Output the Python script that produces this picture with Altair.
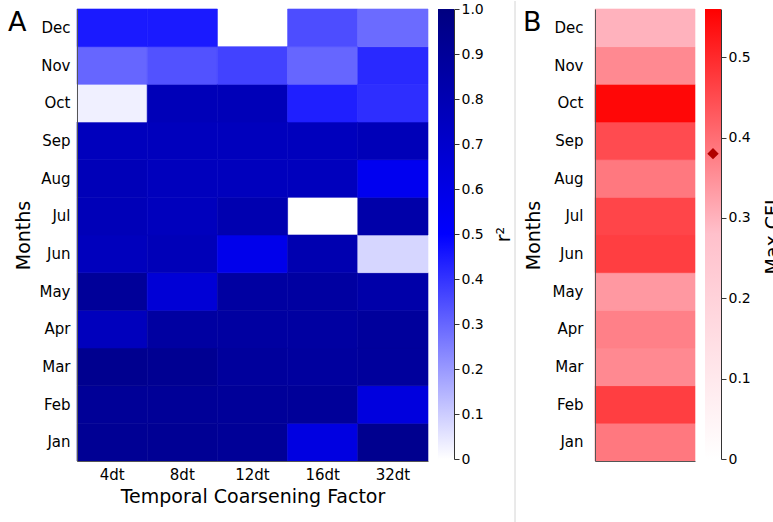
import altair as alt
import pandas as pd

# ---------------- data ----------------
months = ["Jan", "Feb", "Mar", "Apr", "May", "Jun", "Jul", "Aug", "Sep", "Oct", "Nov", "Dec"]
factors = ["4dt", "8dt", "12dt", "16dt", "32dt"]

# r^2 per coarsening factor, Jan..Dec (None = missing cell)
r2_4dt = [0.92, 0.91, 0.94, 0.76, 0.90, 0.76, 0.78, 0.78, 0.76, 0.03, 0.30, 0.45]
r2_8dt = [0.92, 0.91, 0.93, 0.87, 0.66, 0.78, 0.76, 0.76, 0.76, 0.78, 0.34, 0.45]
r2_12dt = [0.91, 0.90, 0.89, 0.87, 0.87, 0.58, 0.81, 0.76, 0.76, 0.78, 0.37, None]
r2_16dt = [0.62, 0.90, 0.88, 0.87, 0.87, 0.81, None, 0.76, 0.76, 0.44, 0.30, 0.35]
r2_32dt = [0.94, 0.63, 0.89, 0.89, 0.84, 0.08, 0.84, 0.56, 0.78, 0.41, 0.42, 0.29]

# max CFL per month, Jan..Dec
max_cfl = [0.385, 0.47, 0.36, 0.373, 0.338, 0.47, 0.46, 0.385, 0.45, 0.55, 0.36, 0.30]
cfl_marker = [0.38]

panel_labels = ["A", "B"]

r2_ticks = [0, 0.1, 0.2, 0.3, 0.4, 0.5, 0.6, 0.7, 0.8, 0.9, 1.0]
cfl_ticks = [0, 0.1, 0.2, 0.3, 0.4, 0.5]

r2_domain = [0, 0.5, 1.0]
r2_colors = ["#ffffff", "#0000ff", "#000080"]
cfl_domain = [0, 0.28, 0.56]
cfl_colors = ["#ffffff", "#ffc0cb", "#ff0000"]

# ---------------- tables ----------------
cols = {"4dt": r2_4dt, "8dt": r2_8dt, "12dt": r2_12dt, "16dt": r2_16dt, "32dt": r2_32dt}
rows = []
for f in factors:
    for m, v in zip(months, cols[f]):
        if v is not None:
            rows.append({"factor": f, "month": m, "r2": v})
df_a = pd.DataFrame(rows)
df_b = pd.DataFrame({"month": months, "cfl": max_cfl, "c": ["all"] * 12})

FONT = "DejaVu Sans"
label_expr = "datum.value == 0 ? '0' : format(datum.value, '.1f')"


def gradient(domain, colors):
    lo, hi = domain[0], domain[-1]
    return {
        "gradient": "linear", "x1": 0, "y1": 1, "x2": 0, "y2": 0,
        "stops": [{"offset": (d - lo) / (hi - lo), "color": c} for d, c in zip(domain, colors)],
    }


def cbar_axis(ticks, title, pad):
    return alt.Axis(orient="right", values=ticks, labelExpr=label_expr, title=title,
                    titleAngle=270, titleBaseline="top", titlePadding=pad, tickSize=5,
                    tickColor="#333333", domainColor="#333333", labelPadding=2, grid=False)


month_order = months[::-1]
r2_scale = alt.Scale(domain=r2_domain, range=r2_colors, interpolate="rgb")
cfl_cscale = alt.Scale(domain=cfl_domain, range=cfl_colors, interpolate="rgb")

# ---------------- panel A ----------------
heat_a = alt.Chart(df_a).mark_rect(strokeWidth=0.6).encode(
    x=alt.X("factor:N", sort=factors,
            scale=alt.Scale(paddingInner=0, paddingOuter=0),
            axis=alt.Axis(title="Temporal Coarsening Factor", labelAngle=0, ticks=False, tickSize=0,
                          labelPadding=6, titlePadding=5, labelFontSize=15, domainColor="#555555")),
    y=alt.Y("month:N", sort=month_order,
            scale=alt.Scale(paddingInner=0, paddingOuter=0),
            axis=alt.Axis(title="Months", ticks=False, tickSize=0, labelPadding=7, titlePadding=5,
                          labelFontSize=15, domainColor="#555555")),
    color=alt.Color("r2:Q", scale=r2_scale, legend=None),
    stroke=alt.Stroke("r2:Q", scale=r2_scale, legend=None),
)
lab_a = alt.Chart(pd.DataFrame({"t": [panel_labels[0]]})).mark_text(
    fontSize=27, align="left", baseline="alphabetic", font=FONT, color="black"
).encode(text="t:N", x=alt.value(-69), y=alt.value(22))
panel_a = alt.layer(heat_a, lab_a).properties(width=351, height=452)

cbar_a = alt.Chart(pd.DataFrame({"a": [0]})).mark_rect(color=gradient(r2_domain, r2_colors)).encode(
    x=alt.value(0), x2=alt.value(16),
    y=alt.Y(datum=r2_domain[0], type="quantitative",
            scale=alt.Scale(domain=[r2_domain[0], r2_domain[-1]], nice=False, zero=False),
            axis=cbar_axis(r2_ticks, "r²", 11)),
    y2=alt.Y2(datum=r2_domain[-1]),
).properties(width=16, height=450)

# ---------------- spacer with separator ----------------
spacer = alt.Chart(pd.DataFrame({"a": [0]})).mark_rule(color="#d4d4d4", strokeWidth=1).encode(
    x=alt.value(51), y=alt.value(-8), y2=alt.value(514)
).properties(width=121, height=452)

# ---------------- panel B ----------------
heat_b = alt.Chart(df_b).mark_rect(strokeWidth=0.6).encode(
    x=alt.X("c:N", scale=alt.Scale(paddingInner=0, paddingOuter=0),
            axis=alt.Axis(title=None, labels=False, ticks=False, tickSize=0, domainColor="#555555",
                          zindex=1)),
    y=alt.Y("month:N", sort=month_order,
            scale=alt.Scale(paddingInner=0, paddingOuter=0),
            axis=alt.Axis(title="Months", ticks=False, tickSize=0, labelPadding=12, titlePadding=8,
                          labelFontSize=15, domainColor="#555555", zindex=1)),
    color=alt.Color("cfl:Q", scale=cfl_cscale, legend=None),
    stroke=alt.Stroke("cfl:Q", scale=cfl_cscale, legend=None),
)
lab_b = alt.Chart(pd.DataFrame({"t": [panel_labels[1]]})).mark_text(
    fontSize=27, align="left", baseline="alphabetic", font=FONT, color="black"
).encode(text="t:N", x=alt.value(-72), y=alt.value(22))
panel_b = alt.layer(heat_b, lab_b).properties(width=100, height=452)

cfl_scale = alt.Scale(domain=[cfl_domain[0], cfl_domain[-1]], nice=False, zero=False)
cbar_b_rect = alt.Chart(pd.DataFrame({"a": [0]})).mark_rect(color=gradient(cfl_domain, cfl_colors)).encode(
    x=alt.value(0), x2=alt.value(16),
    y=alt.Y(datum=cfl_domain[0], type="quantitative", scale=cfl_scale,
            axis=cbar_axis(cfl_ticks, "Max CFL", 13)),
    y2=alt.Y2(datum=cfl_domain[-1]),
)
cbar_b_mark = alt.Chart(pd.DataFrame({"v": cfl_marker})).mark_point(
    shape="diamond", filled=True, color="#b00000", size=130, opacity=1
).encode(
    x=alt.value(8),
    y=alt.Y("v:Q", scale=cfl_scale, axis=cbar_axis(cfl_ticks, "Max CFL", 13)),
)
cbar_b = alt.layer(cbar_b_rect, cbar_b_mark).properties(width=16, height=450)

chart = alt.hconcat(panel_a, cbar_a, spacer, panel_b, cbar_b, spacing=10, bounds="flush").resolve_scale(
    x="independent", y="independent", color="independent", stroke="independent"
).properties(
    padding={"left": 8, "top": 0, "right": -10, "bottom": 0}
).configure(font=FONT).configure_view(strokeWidth=0).configure_axis(
    labelFontSize=14, titleFontSize=19, labelColor="black", titleColor="black",
    titleFontWeight="normal", labelFont=FONT, titleFont=FONT, grid=False
)

chart.save("out.html", embed_options={"renderer": "svg", "actions": False})
